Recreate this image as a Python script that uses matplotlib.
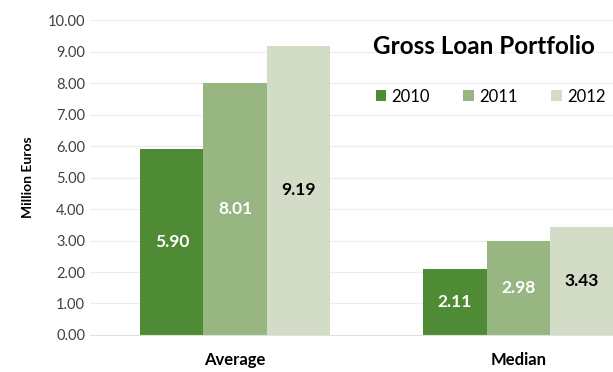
import matplotlib.pyplot as plt
import numpy as np

plt.rcParams['font.family'] = ['Lato', 'DejaVu Sans']

categories = ['Average', 'Median']
years = ['2010', '2011', '2012']
values = {
    '2010': [5.90, 2.11],
    '2011': [8.01, 2.98],
    '2012': [9.19, 3.43],
}
colors = ['#4f8b34', '#97b681', '#d2dcc6']
label_colors = ['white', 'white', 'black']

fig = plt.figure(figsize=(6.13, 3.72), dpi=100)
ax = fig.add_axes([0.147, 0.0995, 0.853, 0.8465])

x = np.arange(len(categories))
width = 0.223
for i, yr in enumerate(years):
    pos = x + (i - 1) * width
    bars = ax.bar(pos, values[yr], width, color=colors[i], label=yr, zorder=2)
    for bar, v in zip(bars, values[yr]):
        ax.text(bar.get_x() + bar.get_width() / 2, v / 2, f'{v:.2f}',
                ha='center', va='center', color=label_colors[i],
                fontsize=12.5, fontweight='bold', zorder=3)

ax.set_xlim(-0.512, 1.335)
ax.set_ylim(0, 10)
ax.set_yticks(np.arange(0, 11, 1))
ax.set_yticklabels([f'{t:.2f}' for t in range(11)], fontsize=10.5, color='#404040')
ax.set_xticks(x)
ax.set_xticklabels(categories, fontsize=12, fontweight='bold')
ax.tick_params(axis='both', length=0)
ax.tick_params(axis='x', pad=12)
ax.yaxis.grid(True, color='#ececec', linewidth=0.8, zorder=0)
for side in ['top', 'right', 'left']:
    ax.spines[side].set_visible(False)
ax.spines['bottom'].set_color('#e0e0e0')
ax.set_ylabel('Million Euros', fontsize=10, fontweight='bold', labelpad=10)

fig.text(0.79, 0.875, 'Gross Loan Portfolio', fontsize=17.5, fontweight='bold',
         ha='center', va='center')
ax.legend(ncol=3, loc='center', bbox_to_anchor=(0.8, 0.74), frameon=False,
          fontsize=12, handlelength=0.65, handleheight=0.65, columnspacing=2.0,
          handletextpad=0.3, bbox_transform=fig.transFigure)

fig.savefig('out.png', dpi=100)
